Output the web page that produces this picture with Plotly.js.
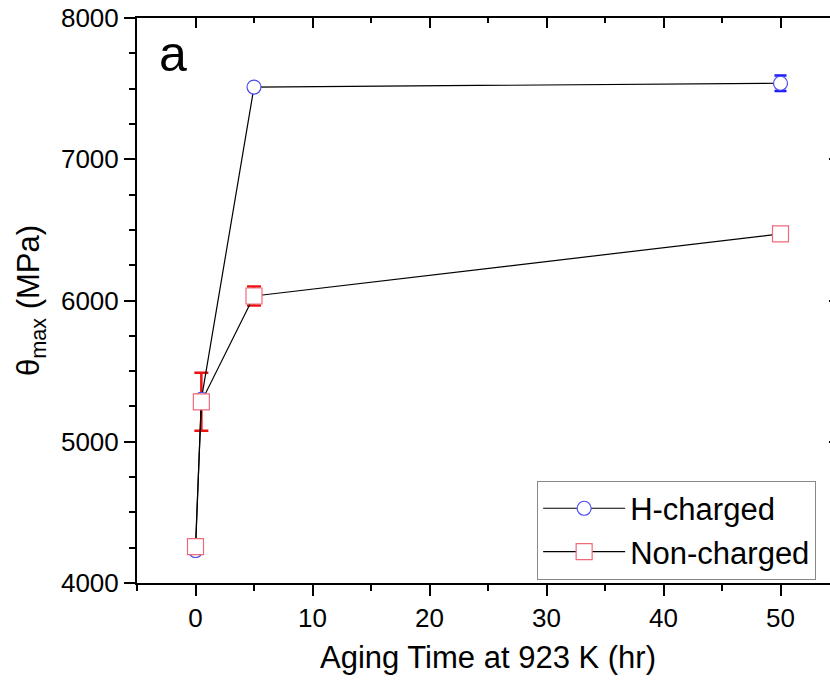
<!DOCTYPE html>
<html><head><meta charset="utf-8">
<script src="https://cdn.plot.ly/plotly-3.0.1.min.js"></script>
<style>html,body{margin:0;padding:0;overflow:hidden;background:#fff}#chart{width:845px;height:683px}</style>
</head><body><div id="chart"></div>
<script>
const agingTime = [0, 0.5, 5, 50];
const hCharged = [4230, 5300, 7511, 7538];
const hChargedErr = [null, null, null, 55];
const nonCharged = [4257, 5283, 6032, 6471];
const nonChargedErr = [null, 205, 67, null];
const seriesNames = ['H-charged', 'Non-charged'];
const xTicks = [0, 10, 20, 30, 40, 50];
const yTicks = [4000, 5000, 6000, 7000, 8000];

const font = 'Arial, "Liberation Sans", sans-serif';
const traces = [
  {x: agingTime, y: hCharged, mode: 'lines', type: 'scatter', showlegend: false, hoverinfo: 'skip',
   line: {width: 0, color: 'rgba(0,0,0,0)'},
   error_y: {type: 'data', array: hChargedErr, visible: true, color: '#1a1aff', thickness: 2.5, width: 6}},
  {x: agingTime, y: nonCharged, mode: 'lines', type: 'scatter', showlegend: false, hoverinfo: 'skip',
   line: {width: 0, color: 'rgba(0,0,0,0)'},
   error_y: {type: 'data', array: nonChargedErr, visible: true, color: '#ee1111', thickness: 2.5, width: 7}},
  {x: agingTime, y: hCharged, name: seriesNames[0], mode: 'lines+markers', type: 'scatter',
   line: {color: '#000', width: 1.2},
   marker: {symbol: 'circle', size: 14, color: '#fff', line: {color: '#4a4aee', width: 1.2}}},
  {x: agingTime, y: nonCharged, name: seriesNames[1], mode: 'lines+markers', type: 'scatter',
   line: {color: '#000', width: 1.2},
   marker: {symbol: 'square', size: 16, color: '#fff', line: {color: '#ee6a7a', width: 1.2}}},
  {x: [null], y: [null], xaxis: 'x2', yaxis: 'y2', showlegend: false, hoverinfo: 'skip', type: 'scatter', mode: 'markers'}
];
const axisCommon = {showline: true, linecolor: '#000', linewidth: 2, showgrid: false, zeroline: false,
  tickcolor: '#000', tickwidth: 2, tickfont: {family: font, size: 26, color: '#000'}};
const layout = {
  width: 845, height: 683,
  margin: {l: 137, r: 6, t: 18, b: 100},
  paper_bgcolor: '#fff', plot_bgcolor: '#fff',
  font: {family: font, color: '#000'},
  showlegend: true,
  xaxis: Object.assign({}, axisCommon, {range: [-5, 55], tickvals: xTicks, ticks: 'outside', ticklen: 11,
    minor: {dtick: 5, tick0: 0, ticks: 'outside', ticklen: 6, tickwidth: 2, tickcolor: '#000'},
    title: {text: 'Aging Time at 923 K (hr)', font: {family: font, size: 31, color: '#000'}, standoff: 14}}),
  yaxis: Object.assign({}, axisCommon, {range: [4000, 8000], tickvals: yTicks, ticks: 'outside', ticklen: 11,
    minor: {dtick: 250, tick0: 4000, ticks: 'outside', ticklen: 6, tickwidth: 2, tickcolor: '#000'},
    title: {text: 'θ<sub>max</sub> (MPa)', font: {family: font, size: 31, color: '#000'}, standoff: 12}}),
  xaxis2: {overlaying: 'x', side: 'top', range: [-5, 55], tickvals: xTicks, ticks: 'inside', ticklen: 10,
    tickwidth: 2, tickcolor: '#000', showticklabels: false, showline: true, linecolor: '#000', linewidth: 2,
    showgrid: false, zeroline: false,
    minor: {dtick: 5, tick0: 0, ticks: 'inside', ticklen: 5, tickwidth: 2, tickcolor: '#000'}},
  yaxis2: {overlaying: 'y', side: 'right', range: [4000, 8000], tickvals: yTicks, ticks: 'inside', ticklen: 10,
    tickwidth: 2, tickcolor: '#000', showticklabels: false, showline: true, linecolor: '#000', linewidth: 2,
    showgrid: false, zeroline: false,
    minor: {dtick: 250, tick0: 4000, ticks: 'inside', ticklen: 5, tickwidth: 2, tickcolor: '#000'}},
  legend: {x: 0.57, xanchor: 'left', y: 0.006, yanchor: 'bottom', bgcolor: '#fff',
    bordercolor: '#888', borderwidth: 1, font: {family: font, size: 31, color: '#000'},
    tracegroupgap: 0, itemwidth: 82},
  annotations: [{text: 'a', xref: 'paper', yref: 'paper', x: 0.028, y: 0.99, showarrow: false,
    font: {family: font, size: 50, color: '#000'}}]
};
Plotly.newPlot('chart', traces, layout, {displayModeBar: false, staticPlot: true});
</script></body></html>
